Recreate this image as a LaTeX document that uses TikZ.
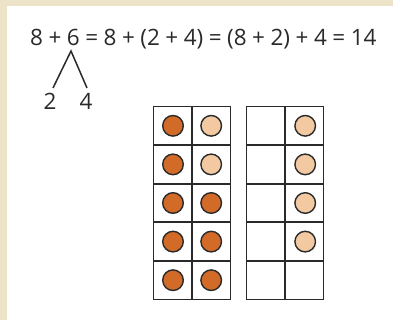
\documentclass[tikz,border=0pt]{standalone}
\usepackage{fontspec}
\setmainfont{Open Sans}
\definecolor{beige}{HTML}{EDE3C8}
\definecolor{darkor}{HTML}{D26A28}
\definecolor{lightor}{HTML}{F2C9A0}
\definecolor{ink}{HTML}{2A2A2A}
\newcommand\opgap{\hspace{5.5pt}}
\begin{document}
\begin{tikzpicture}[x=1pt,y=-1pt,
  txt/.style={inner sep=0pt, font=\fontsize{22.5}{26}\selectfont, text=ink},
  gridline/.style={draw=ink, line width=1.8pt},
  counter/.style={draw=ink, line width=1.4pt}]
\useasboundingbox (0,0) rectangle (393,320);
\fill[beige] (0,0) rectangle (393,320);
\fill[white] (7,6) rectangle (393,320);
% equation
\node[txt, anchor=base west] (eq) at (30,45.5) {8\opgap+\opgap6\opgap=\opgap8\opgap+\opgap(2\opgap+\opgap4)\opgap=\opgap(8\opgap+\opgap2)\opgap+\opgap4\opgap=\opgap14};
\coordinate (apex) at (71,51);
\node[txt, anchor=base] (two) at (50,110) {2};
\node[txt, anchor=base] (four) at (86,110) {4};
\coordinate (lend) at (53,88);
\coordinate (rend) at (87,88);
\draw[ink, line width=1.5pt, line join=miter] (lend) -- (apex) -- (rend);
% ten frames
\def\rowh{38.6}
\foreach \gx in {153.5, 246.5} {
  \draw[gridline] (\gx,106.5) rectangle ++(77,193);
  \draw[gridline] (\gx+38.5,106.5) -- ++(0,193);
  \foreach \r in {1,...,4} \draw[gridline] (\gx,106.5+\r*\rowh) -- ++(77,0);
}
% left frame counters
\foreach \r/\ca/\cb in {0/darkor/lightor, 1/darkor/lightor, 2/darkor/darkor, 3/darkor/darkor, 4/darkor/darkor} {
  \filldraw[counter, fill=\ca] (173,125.8+\r*\rowh) circle (10.3);
  \filldraw[counter, fill=\cb] (211.2,125.8+\r*\rowh) circle (10.3);
}
% right frame counters
\foreach \r in {0,...,3} {
  \filldraw[counter, fill=lightor] (305.2,125.8+\r*\rowh) circle (10.3);
}
\end{tikzpicture}
\end{document}
